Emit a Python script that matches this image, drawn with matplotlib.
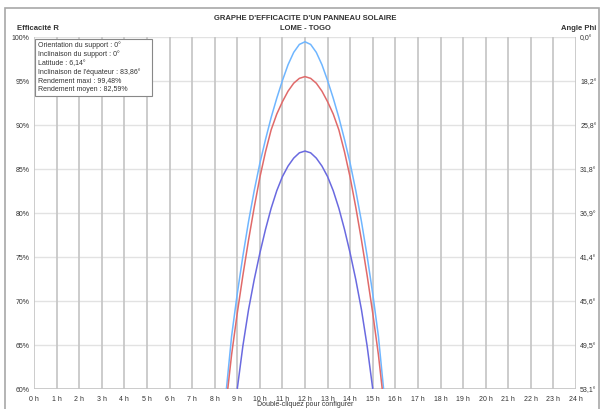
import matplotlib
matplotlib.use("Agg")
import matplotlib.pyplot as plt
from matplotlib.patches import Rectangle

plt.rcParams['font.family'] = ['Liberation Sans', 'DejaVu Sans']

# ---- data ----
hours_light = [8.52, 8.75, 9.0, 9.25, 9.5, 9.75, 10.0, 10.25, 10.5, 10.75, 11.0, 11.25, 11.5, 11.75, 12.0,
               12.25, 12.5, 12.75, 13.0, 13.25, 13.5, 13.75, 14.0, 14.25, 14.5, 14.75, 15.0, 15.25, 15.48]
eff_light = [60.0, 66.0, 70.8, 75.1, 79.0, 82.5, 85.6, 88.3, 90.8, 93.0, 95.0, 96.8, 98.2, 99.1, 99.4,
             99.1, 98.2, 96.8, 95.0, 93.0, 90.8, 88.3, 85.6, 82.5, 79.0, 75.1, 70.8, 66.0, 60.0]

hours_red = [8.58, 8.75, 9.0, 9.25, 9.5, 9.75, 10.0, 10.25, 10.5, 10.75, 11.0, 11.25, 11.5, 11.75, 12.0,
             12.25, 12.5, 12.75, 13.0, 13.25, 13.5, 13.75, 14.0, 14.25, 14.5, 14.75, 15.0, 15.25, 15.42]
eff_red = [60.0, 63.9, 68.6, 72.9, 76.9, 80.6, 84.0, 86.9, 89.4, 91.2, 92.6, 93.8, 94.7, 95.25, 95.45,
           95.25, 94.7, 93.8, 92.6, 91.2, 89.4, 86.9, 84.0, 80.6, 76.9, 72.9, 68.6, 63.9, 60.0]

hours_dark = [9.0, 9.25, 9.5, 9.75, 10.0, 10.25, 10.5, 10.75, 11.0, 11.25, 11.5, 11.75, 12.0,
              12.25, 12.5, 12.75, 13.0, 13.25, 13.5, 13.75, 14.0, 14.25, 14.5, 14.75, 15.0]
eff_dark = [60.0, 64.9, 69.0, 72.4, 75.4, 78.1, 80.5, 82.5, 84.1, 85.3, 86.2, 86.8, 87.0,
            86.8, 86.2, 85.3, 84.1, 82.5, 80.5, 78.1, 75.4, 72.4, 69.0, 64.9, 60.0]

hour_ticks = list(range(0, 25))
hour_labels = [f"{h} h" for h in hour_ticks]
eff_ticks = [60, 65, 70, 75, 80, 85, 90, 95, 100]
eff_labels = [f"{v}%" for v in eff_ticks]
phi_labels = ["53,1°", "49,5°", "45,6°", "41,4°", "36,9°", "31,8°", "25,8°", "18,2°", "0,0°"]

info_lines = ["Orientation du support : 0°",
              "Inclinaison du support : 0°",
              "Latitude : 6,14°",
              "Inclinaison de l'équateur : 83,86°",
              "Rendement maxi : 99,48%",
              "Rendement moyen : 82,59%"]

W, H = 602, 410
fig = plt.figure(figsize=(W / 100, H / 100), dpi=100)
fig.patch.set_facecolor('white')

# outer frame (top at y=9 px, bottom edge just outside the picture)
fig.patches.append(Rectangle((5 / W, -4 / H), 594 / W, 405 / H, transform=fig.transFigure,
                             fill=False, edgecolor='#a8a8a8', linewidth=1.2))

x0, x1 = 34, 576
y0, y1 = 37.5, 390
ax = fig.add_axes([x0 / W, 1 - y1 / H, (x1 - x0) / W, (y1 - y0) / H])
ax.set_xlim(0, 24)
ax.set_ylim(60, 100)
for s in ax.spines.values():
    s.set_visible(False)

for v in eff_ticks:
    ax.axhline(v, color='#e2e2e2', linewidth=1.0, zorder=1)
for h in hour_ticks:
    ax.axvline(h, color='#c4c4c4', linewidth=1.2, zorder=1)
ax.axhline(60, color='#c4c4c4', linewidth=1.2, zorder=1)

ax.plot(hours_light, eff_light, color='#6fb6ff', linewidth=1.1, zorder=3, solid_joinstyle='round')
ax.plot(hours_red, eff_red, color='#e06a6a', linewidth=1.1, zorder=3, solid_joinstyle='round')
ax.plot(hours_dark, eff_dark, color='#6a6ae0', linewidth=1.1, zorder=3, solid_joinstyle='round')

ax.set_xticks(hour_ticks)
ax.set_xticklabels(hour_labels, fontsize=5, color='#333333')
ax.set_yticks(eff_ticks)
ax.set_yticklabels(eff_labels, fontsize=5, color='#333333')
ax.tick_params(axis='both', length=0, pad=3)
ax.tick_params(axis='x', pad=4)

ax2 = ax.twinx()
ax2.set_ylim(60, 100)
ax2.set_yticks(eff_ticks)
ax2.set_yticklabels(phi_labels, fontsize=5, color='#333333')
ax2.tick_params(axis='y', length=0, pad=3)
for s in ax2.spines.values():
    s.set_visible(False)

# titles
fig.text(305 / W, 1 - 19 / H, "GRAPHE D'EFFICACITE D'UN PANNEAU SOLAIRE", ha='center', va='center',
         fontsize=5.5, fontweight='bold', color='#333333')
fig.text(305 / W, 1 - 28 / H, "LOME - TOGO", ha='center', va='center',
         fontsize=5.5, fontweight='bold', color='#333333')
fig.text(17 / W, 1 - 28 / H, "Efficacité R", ha='left', va='center',
         fontsize=5.5, fontweight='bold', color='#333333')
fig.text(596 / W, 1 - 28 / H, "Angle Phi", ha='right', va='center',
         fontsize=5.5, fontweight='bold', color='#333333')
fig.text(305 / W, 1 - 405 / H, "Double-cliquez pour configurer", ha='center', va='center',
         fontsize=5, color='#333333')

# info box
bx0, by0, bx1, by1 = 35, 40, 152, 97
fig.patches.append(Rectangle((bx0 / W, 1 - by1 / H), (bx1 - bx0) / W, (by1 - by0) / H,
                             transform=fig.transFigure, facecolor='white',
                             edgecolor='#888888', linewidth=0.8, zorder=5))
for i, line in enumerate(info_lines):
    fig.text(38 / W, 1 - (45.5 + 8.8 * i) / H, line, ha='left', va='center',
             fontsize=5, color='#333333', zorder=6)

fig.savefig("out.png", dpi=100)
